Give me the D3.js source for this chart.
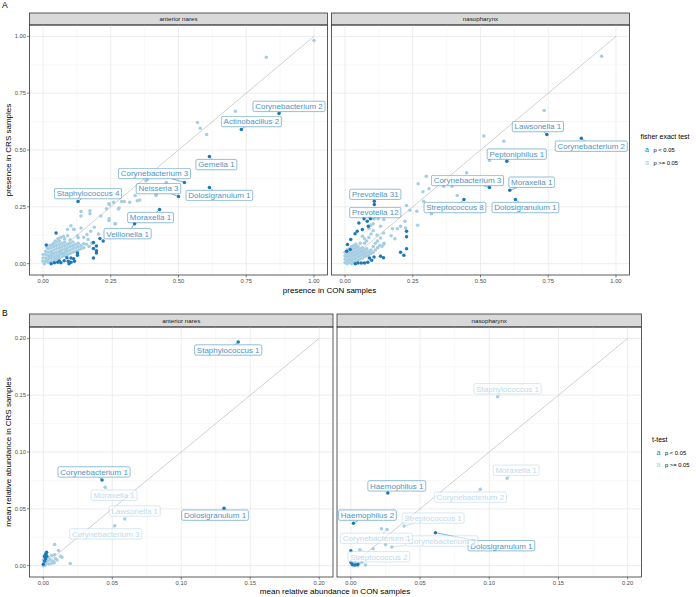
<!DOCTYPE html>
<html><head><meta charset="utf-8">
<script src="https://cdn.jsdelivr.net/npm/d3@7"></script>
<style>body{margin:0;background:#fff}svg{display:block}text{font-family:"Liberation Sans",Arial,Helvetica,sans-serif}</style>
</head><body><svg id="c" width="696" height="597"></svg>
<script>
// ---------------- DATA ----------------
const sites = ["anterior nares", "nasopharynx"];
const presTicks = [0, 0.25, 0.5, 0.75, 1];
const presTickLabels = ["0.00", "0.25", "0.50", "0.75", "1.00"];
const presMinor = [0.125, 0.375, 0.625, 0.875];
const abunTicks = [0, 0.05, 0.1, 0.15, 0.2];
const abunTickLabels = ["0.00", "0.05", "0.10", "0.15", "0.20"];
const abunMinor = [0.025, 0.075, 0.125, 0.175];
const sigLevels = ["p < 0.05", "p >= 0.05"];

// presence: [CON, CRS, significant 1/0]
const presNares = [
[0.048,0.135,1],[0.012,0.082,1],[0.21,0.111,1],[0.222,0.10,1],[0.186,0.093,1],[0.197,0.078,1],[0.186,0.067,1],[0.197,0.057,1],[0.197,0.047,1],[0.186,0.025,1],[0.127,0.047,1],[0.127,0.037,1],[0.103,0.025,1],[0.113,0.021,1],[0.093,0.010,1],[0.103,0.006,1],[0.078,0.013,1],[0.066,0.004,1],[0.054,0.006,1],[0.042,0.004,1],[0.060,0.012,1],[0.088,0.026,1],[0.116,0.010,1],[0.03,0.0,1],[0.096,0.0,1],
[1.0,0.982,0],[0.824,0.908,0],[0.71,0.67,0],[0.57,0.621,0],[0.58,0.596,0],[0.604,0.568,0],[0.38,0.365,0],[0.455,0.357,0],[0.417,0.30,0],[0.348,0.277,0],[0.30,0.273,0],[0.29,0.273,0],[0.278,0.24,0],[0.243,0.264,0],[0.234,0.242,0],[0.213,0.21,0],[0.265,0.176,0],[0.243,0.19,0],[0.173,0.233,0],[0.173,0.22,0],[0.14,0.229,0],[0.14,0.21,0],[0.103,0.167,0],[0.113,0.151,0],[0.14,0.157,0],[0.091,0.123,0],[0.127,0.123,0],[0.15,0.116,0],[0.162,0.128,0],[0.176,0.142,0],[0.189,0.16,0],[0.244,0.197,0],[0.268,0.175,0],[0.245,0.26,0],[0.281,0.245,0],[0.26,0.27,0],[0.32,0.27,0],[0.34,0.30,0],[0.357,0.28,0],[0.385,0.37,0],[0.418,0.304,0],[0.166,0.106,0],[0.15,0.088,0],[0.13,0.114,0],[0.115,0.15,0],[0.09,0.15,0],[0.205,0.13,0],
[0,0.01,0],[0,0.025,0],[0,0.04,0],[0.005,0.0,0],[0.01,0.01,0],[0.01,0.025,0],[0.01,0.04,0],[0.01,0.055,0],[0.02,0.005,0],[0.02,0.02,0],[0.02,0.035,0],[0.02,0.05,0],[0.02,0.065,0],[0.03,0.01,0],[0.03,0.025,0],[0.03,0.04,0],[0.03,0.055,0],[0.03,0.07,0],[0.04,0.015,0],[0.04,0.03,0],[0.04,0.045,0],[0.04,0.06,0],[0.04,0.075,0],[0.04,0.09,0],[0.05,0.02,0],[0.05,0.035,0],[0.05,0.05,0],[0.05,0.065,0],[0.05,0.08,0],[0.05,0.095,0],[0.06,0.025,0],[0.06,0.04,0],[0.06,0.055,0],[0.06,0.07,0],[0.06,0.085,0],[0.06,0.10,0],[0.07,0.03,0],[0.07,0.045,0],[0.07,0.06,0],[0.07,0.075,0],[0.07,0.09,0],[0.08,0.035,0],[0.08,0.05,0],[0.08,0.065,0],[0.08,0.08,0],[0.08,0.095,0],[0.08,0.11,0],[0.09,0.04,0],[0.09,0.055,0],[0.09,0.07,0],[0.09,0.085,0],[0.10,0.045,0],[0.10,0.06,0],[0.10,0.075,0],[0.10,0.09,0],[0.10,0.105,0],[0.11,0.05,0],[0.11,0.065,0],[0.11,0.08,0],[0.11,0.095,0],[0.12,0.055,0],[0.12,0.07,0],[0.12,0.085,0],[0.13,0.06,0],[0.13,0.075,0],[0.13,0.09,0],[0.14,0.065,0],[0.14,0.08,0],[0.15,0.07,0],[0.16,0.085,0],[0.17,0.075,0],[0.18,0.09,0],[0.015,0.015,0],[0.025,0.03,0],[0.035,0.045,0],[0.045,0.02,0],[0.055,0.03,0],[0.065,0.05,0],[0.075,0.04,0],[0.085,0.06,0],[0.015,0.07,0],[0.025,0.08,0],[0.035,0.085,0],[0.045,0.1,0],[0.055,0.11,0],[0.065,0.115,0],[0.075,0.12,0]
];
const presNaresLabels = [
["Corynebacterium 2",0.871,0.661,1],["Actinobacillus 2",0.732,0.590,1],["Gemella 1",0.614,0.471,1],["Corynebacterium 3",0.522,0.357,1],["Dolosigranulum 1",0.614,0.335,1],["Neisseria 3",0.50,0.295,1],["Staphylococcus 4",0.129,0.273,1],["Moraxella 1",0.43,0.238,1],["Veillonella 1",0.338,0.176,1]
];

const presNaso = [
[0.07,0.197,1],[0.082,0.186,1],[0.094,0.197,1],[0.086,0.164,1],[0.051,0.179,1],[0.064,0.150,1],[0.045,0.142,1],[0.037,0.131,1],[0.021,0.106,1],[0.009,0.084,1],[0.019,0.062,1],[0.006,0.055,1],[0.227,0.142,1],[0.227,0.118,1],[0.227,0.065,1],[0.205,0.05,1],[0.217,0.037,1],[0.131,0.032,1],[0.142,0.026,1],[0.107,0.029,1],[0.098,0.015,1],[0.084,0.006,1],[0.072,0.003,1],[0.06,0.003,1],[0.048,0.003,1],[0.038,0.0,1],[0.09,0.025,1],
[0.947,0.913,0],[0.735,0.674,0],[0.512,0.562,0],[0.586,0.539,0],[0.533,0.454,0],[0.449,0.40,0],[0.414,0.30,0],[0.395,0.341,0],[0.364,0.341,0],[0.30,0.385,0],[0.27,0.352,0],[0.288,0.316,0],[0.31,0.33,0],[0.29,0.274,0],[0.319,0.219,0],[0.265,0.23,0],[0.268,0.169,0],[0.239,0.235,0],[0.227,0.256,0],[0.221,0.186,0],[0.223,0.157,0],[0.205,0.164,0],[0.193,0.153,0],[0.175,0.153,0],[0.184,0.109,0],[0.17,0.123,0],[0.143,0.194,0],[0.122,0.197,0],[0.107,0.197,0],[0.09,0.205,0],[0.131,0.164,0],[0.142,0.135,0],[0.118,0.126,0],[0.131,0.113,0],[0.142,0.084,0],
[0,0.005,0],[0,0.02,0],[0,0.035,0],[0,0.05,0],[0.008,0.0,0],[0.008,0.015,0],[0.008,0.03,0],[0.008,0.045,0],[0.008,0.06,0],[0.016,0.005,0],[0.016,0.02,0],[0.016,0.035,0],[0.016,0.05,0],[0.016,0.065,0],[0.024,0.0,0],[0.024,0.015,0],[0.024,0.03,0],[0.024,0.045,0],[0.024,0.06,0],[0.024,0.075,0],[0.032,0.005,0],[0.032,0.02,0],[0.032,0.035,0],[0.032,0.05,0],[0.032,0.065,0],[0.04,0.01,0],[0.04,0.025,0],[0.04,0.04,0],[0.04,0.055,0],[0.04,0.07,0],[0.048,0.015,0],[0.048,0.03,0],[0.048,0.045,0],[0.048,0.06,0],[0.048,0.075,0],[0.056,0.02,0],[0.056,0.035,0],[0.056,0.05,0],[0.056,0.065,0],[0.064,0.025,0],[0.064,0.04,0],[0.064,0.055,0],[0.064,0.07,0],[0.072,0.03,0],[0.072,0.045,0],[0.072,0.06,0],[0.072,0.09,0],[0.08,0.035,0],[0.08,0.05,0],[0.08,0.065,0],[0.08,0.10,0],[0.088,0.04,0],[0.088,0.055,0],[0.088,0.115,0],[0.096,0.045,0],[0.096,0.06,0],[0.096,0.13,0],[0.104,0.05,0],[0.104,0.075,0],[0.104,0.145,0],[0.112,0.06,0],[0.112,0.09,0],[0.12,0.07,0],[0.12,0.10,0],[0.128,0.08,0],[0.136,0.075,0],[0.144,0.09,0],[0.072,0.11,0],[0.064,0.12,0],[0.056,0.09,0],[0.04,0.085,0],[0.032,0.08,0],[0.096,0.17,0],[0.088,0.155,0],[0.104,0.175,0]
];
const presNasoLabels = [
["Lawsonella 1",0.745,0.568,1],["Corynebacterium 2",0.872,0.552,1],["Peptoniphilus 1",0.597,0.451,1],["Corynebacterium 3",0.533,0.335,1],["Moraxella 1",0.608,0.323,1],["Dolosigranulum 1",0.629,0.282,1],["Streptococcus 8",0.439,0.282,1],["Prevotella 31",0.108,0.274,1],["Prevotella 12",0.108,0.26,1]
];

// mean relative abundance: [CON, CRS, significant 1/0]
const abunNares = [
[0.0082,0.0187,0],[0.011,0.0134,0],[0.0125,0.0082,0],[0.0135,0.0073,0],[0.0195,0.0018,0],[0.0082,0.0096,0],[0.0061,0.009,0],[0.004,0.007,0],[0.003,0.004,0],[0.005,0.005,0],[0.002,0.002,0],[0.001,0.001,0],[0.0,0.0,0],[0.0005,0.003,0],[0.007,0.004,0],[0.009,0.006,0],[0.004,0.0015,0],[0.006,0.002,0],[0.002,0.006,0],[0.003,0.008,0],[0.0,0.005,0],[0.001,0.009,0],[0.008,0.0025,0],[0.01,0.005,0],[0.0015,0.0005,0],
[0.0024,0.0117,1],[0.0016,0.0096,1],[0.0024,0.0082,1],[0.0016,0.006,1],[0.0,0.0013,1],[0.002,0.0105,1],[0.001,0.004,1],[0.0008,0.008,1]
];
const abunNaresLabels = [
["Staphylococcus 1",0.1413,0.1968,1],["Corynebacterium 1",0.0426,0.0754,1],["Moraxella 1",0.0448,0.069,0],["Lawsonella 1",0.059,0.041,0],["Corynebacterium 3",0.0518,0.035,0],["Dolosigranulum 1",0.131,0.0506,1]
];
const abunNaso = [
[0.0221,0.0325,0],[0.025,0.0187,0],[0.0161,0.0149,0],[0.0106,0.0006,0],[0.004,0.001,0],[0.006,0.002,0],[0.008,0.003,0],[0.002,0.0,0],[0.003,0.003,0],[0.001,0.002,0],[0.005,0.0,0],
[0.0,0.013,1],[0.001,0.001,1],[0.003,0.0005,1],[0.005,0.001,1],[0.0,0.003,1]
];
const abunNasoLabels = [
["Staphylococcus 1",0.106,0.1486,0],["Moraxella 1",0.1129,0.0769,0],["Corynebacterium 2",0.0936,0.0673,0],["Haemophilus 1",0.0267,0.064,1],["Haemophilus 2",0.0019,0.0374,1],["Streptococcus 1",0.0385,0.0348,0],["Dolosigranulum 1",0.0611,0.029,1],["Corynebacterium 3",0.0296,0.0164,0],["Corynebacterium 1",0.0262,0.0319,0],["Streptococcus 2",0.0065,0.014,0]
];

// ---------------- LAYOUT (label nudges in px) ----------------
const labelNudge = {
  "pA0": {"Corynebacterium 2":[10,-7],"Actinobacillus 2":[10,-8],"Gemella 1":[7,8],"Corynebacterium 3":[-30,-9],"Neisseria 3":[-20,-8],"Dolosigranulum 1":[10,8],"Staphylococcus 4":[10,-8],"Moraxella 1":[-9,8],"Veillonella 1":[-7,10]},
  "pA1": {"Lawsonella 1":[-9,-8],"Corynebacterium 2":[10,8],"Peptoniphilus 1":[10,-7],"Corynebacterium 3":[-22,-7],"Moraxella 1":[22,-8],"Dolosigranulum 1":[10,8],"Streptococcus 8":[-9,8],"Prevotella 31":[1,-7],"Prevotella 12":[1,8]},
  "pB0": {"Staphylococcus 1":[-10,8],"Corynebacterium 1":[-8,-8],"Moraxella 1":[9,8],"Lawsonella 1":[10,-8],"Corynebacterium 3":[-9,8],"Dolosigranulum 1":[-9,7]},
  "pB1": {"Staphylococcus 1":[10,-8],"Moraxella 1":[9,-8],"Corynebacterium 2":[-10,8],"Haemophilus 1":[9,-7],"Haemophilus 2":[14,-8],"Streptococcus 1":[29,-8],"Dolosigranulum 1":[66,13],"Corynebacterium 3":[50,-6],"Corynebacterium 1":[-10.5,9],"Streptococcus 2":[19,7]}
};

const DARK = "#1f78b4", LIGHT = "#a6cee3";
const svg = d3.select("#c");

function drawPanel(key, x0, x1, stripTop, panelTop, panelBot, domain, ticks, tickLabels, minor, showY, title, pts, labels) {
  const g = svg.append("g");
  const x = d3.scaleLinear().domain(domain).range([x0, x1]);
  const y = d3.scaleLinear().domain(domain).range([panelBot, panelTop]);
  g.append("rect").attr("x", x0).attr("y", stripTop).attr("width", x1 - x0).attr("height", panelTop - stripTop)
    .attr("fill", "#d9d9d9").attr("stroke", "#333").attr("stroke-width", 0.8);
  g.append("text").attr("x", (x0 + x1) / 2).attr("y", (stripTop + panelTop) / 2).attr("dy", "0.35em")
    .attr("text-anchor", "middle").attr("font-size", 6.2).attr("fill", "#1a1a1a").text(title);
  g.selectAll(".mnx").data(minor).join("line").attr("x1", d => x(d)).attr("x2", d => x(d)).attr("y1", panelTop).attr("y2", panelBot).attr("stroke", "#f0f0f0").attr("stroke-width", 0.5);
  g.selectAll(".mny").data(minor).join("line").attr("y1", d => y(d)).attr("y2", d => y(d)).attr("x1", x0).attr("x2", x1).attr("stroke", "#f0f0f0").attr("stroke-width", 0.5);
  g.selectAll(".mjx").data(ticks).join("line").attr("x1", d => x(d)).attr("x2", d => x(d)).attr("y1", panelTop).attr("y2", panelBot).attr("stroke", "#e8e8e8").attr("stroke-width", 0.8);
  g.selectAll(".mjy").data(ticks).join("line").attr("y1", d => y(d)).attr("y2", d => y(d)).attr("x1", x0).attr("x2", x1).attr("stroke", "#e8e8e8").attr("stroke-width", 0.8);
  g.append("line").attr("x1", x(ticks[0])).attr("y1", y(ticks[0])).attr("x2", x(ticks[ticks.length - 1])).attr("y2", y(ticks[ticks.length - 1]))
    .attr("stroke", "#bdbdbd").attr("stroke-width", 0.7);
  const all = pts.map(d => ({ cx: d[0], cy: d[1], s: d[2] })).concat(labels.map(d => ({ cx: d[1], cy: d[2], s: d[3] })));
  all.sort((a, b) => a.s - b.s);
  g.selectAll(".pt").data(all).join("circle").attr("cx", d => x(d.cx)).attr("cy", d => y(d.cy)).attr("r", 1.75)
    .attr("fill", d => d.s ? DARK : LIGHT);
  labels.forEach(l => {
    const px = x(l[1]), py = y(l[2]);
    const nd = (labelNudge[key] || {})[l[0]] || [0, -8];
    const cx = px + nd[0], cy = py + nd[1];
    const col = l[3] ? DARK : LIGHT;
    const lg = g.append("g").attr("opacity", l[3] ? 0.8 : 0.72);
    const rect = lg.append("rect");
    const t = lg.append("text").attr("x", cx).attr("y", cy).attr("dy", "0.36em").attr("text-anchor", "middle")
      .attr("font-size", 8).attr("fill", col).text(l[0]);
    const w = t.node().getComputedTextLength();
    const bw = w + 4.5, bh = 10.4;
    const bx = cx - bw / 2, by = cy - bh / 2;
    rect.attr("x", bx).attr("y", by).attr("width", bw).attr("height", bh).attr("rx", 1.6)
      .attr("fill", "#fff").attr("fill-opacity", 0.85).attr("stroke", col).attr("stroke-width", 0.6);
    const inside = px >= bx && px <= bx + bw && py >= by && py <= by + bh;
    if (!inside) {
      const dx = px - cx, dy = py - cy;
      const tx = dx !== 0 ? (bw / 2) / Math.abs(dx) : Infinity;
      const ty = dy !== 0 ? (bh / 2) / Math.abs(dy) : Infinity;
      const tt = Math.min(tx, ty);
      const ex = cx + dx * tt, ey = cy + dy * tt;
      const len = Math.hypot(px - ex, py - ey);
      if (len > 3) {
        lg.insert("line", "rect").attr("x1", px).attr("y1", py).attr("x2", ex).attr("y2", ey)
          .attr("stroke", col).attr("stroke-width", 0.7);
      }
    }
  });
  g.append("rect").attr("x", x0).attr("y", panelTop).attr("width", x1 - x0).attr("height", panelBot - panelTop)
    .attr("fill", "none").attr("stroke", "#333").attr("stroke-width", 0.8);
  g.selectAll(".xt").data(ticks).join("line").attr("x1", d => x(d)).attr("x2", d => x(d)).attr("y1", panelBot).attr("y2", panelBot + 2.5).attr("stroke", "#333").attr("stroke-width", 0.6);
  g.selectAll(".xl").data(ticks).join("text").attr("x", d => x(d)).attr("y", panelBot + 6).attr("dy", "0.35em")
    .attr("text-anchor", "middle").attr("font-size", 5.8).attr("fill", "#4d4d4d").text((d, i) => tickLabels[i]);
  if (showY) {
    g.selectAll(".yt").data(ticks).join("line").attr("y1", d => y(d)).attr("y2", d => y(d)).attr("x1", x0 - 2.5).attr("x2", x0).attr("stroke", "#333").attr("stroke-width", 0.6);
    g.selectAll(".yl").data(ticks).join("text").attr("x", x0 - 3.5).attr("y", d => y(d)).attr("dy", "0.35em")
      .attr("text-anchor", "end").attr("font-size", 5.8).attr("fill", "#4d4d4d").text((d, i) => tickLabels[i]);
  }
}

drawPanel("pA0", 29.5, 327.5, 13, 25, 275, [-0.05, 1.05], presTicks, presTickLabels, presMinor, true, sites[0], presNares, presNaresLabels);
drawPanel("pA1", 331.5, 629.5, 13, 25, 275, [-0.05, 1.05], presTicks, presTickLabels, presMinor, false, sites[1], presNaso, presNasoLabels);
drawPanel("pB0", 29.5, 333, 314, 327, 577, [-0.01, 0.21], abunTicks, abunTickLabels, abunMinor, true, sites[0], abunNares, abunNaresLabels);
drawPanel("pB1", 337, 641.5, 314, 327, 577, [-0.01, 0.21], abunTicks, abunTickLabels, abunMinor, false, sites[1], abunNaso, abunNasoLabels);

function txt(xp, yp, s, size, opts = {}) {
  const t = svg.append("text").attr("x", xp).attr("y", yp).attr("font-size", size).attr("fill", opts.fill || "#000")
    .attr("text-anchor", opts.anchor || "start").attr("dy", "0.35em").text(s);
  if (opts.rot) t.attr("transform", `rotate(-90,${xp},${yp})`);
  return t;
}
txt(2, 5, "A", 8.5);
txt(2, 313, "B", 8.5);
txt(329.5, 290, "presence in CON samples", 8, { anchor: "middle" });
txt(8, 150, "presence in CRS samples", 8, { anchor: "middle", rot: true });
txt(335, 591.5, "mean relative abundance in CON samples", 8, { anchor: "middle" });
txt(8, 452, "mean relative abundance in CRS samples", 8, { anchor: "middle", rot: true });

function legend(lx, ly, title) {
  txt(lx, ly, title, 7);
  sigLevels.forEach((s, i) => {
    txt(lx + 6.5, ly + 13 + i * 12.5, "a", 7, { anchor: "middle", fill: i === 0 ? DARK : LIGHT });
    txt(lx + 13, ly + 13 + i * 12.5, s, 5.8);
  });
}
legend(640.5, 137, "fisher exact test");
legend(652, 439.5, "t-test");
</script></body></html>
